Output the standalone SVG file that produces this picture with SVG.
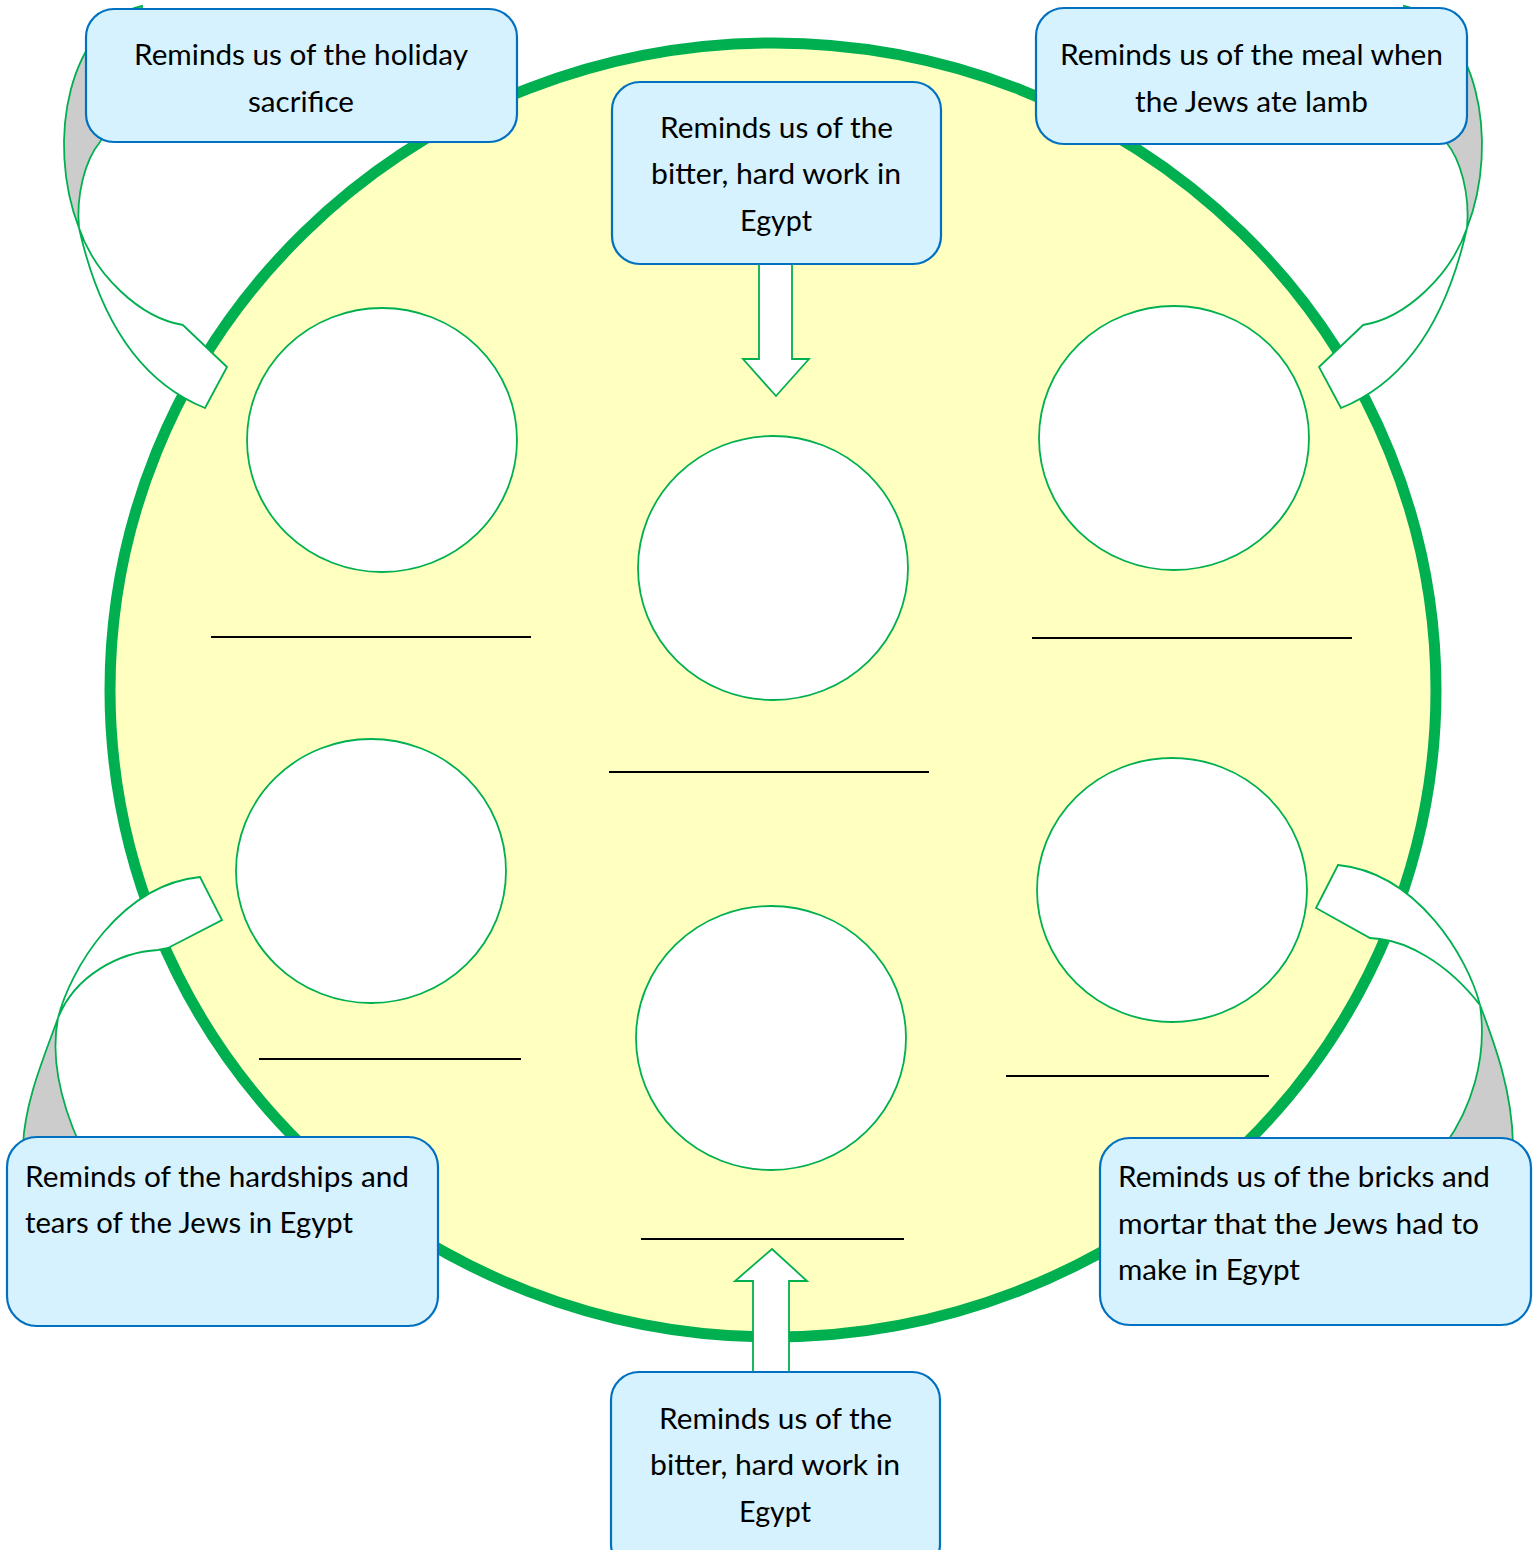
<svg xmlns="http://www.w3.org/2000/svg" width="1540" height="1550" viewBox="0 0 1540 1550">
<style>
.plate{fill:#FFFFC0;stroke:#00B050;stroke-width:11}
.slot{fill:#FFFFFF;stroke:#00B050;stroke-width:1.8}
.rule{stroke:#000000;stroke-width:2;fill:none}
.box{fill:#D5F2FE;stroke:#0070C0;stroke-width:2.2}
.arw{fill:#FFFFFF;stroke:#00B050;stroke-width:1.8;stroke-linejoin:miter}
.back{fill:#CCCCCC;stroke:#00B050;stroke-width:1.8}
.t{font-family:Lato,"Open Sans","Liberation Sans",sans-serif;font-size:28px;fill:#000000}
.c{text-anchor:middle}
</style>
<rect width="1540" height="1550" fill="#FFFFFF"/>
<g id="plate"><ellipse class="plate" cx="773" cy="690" rx="663" ry="647"/></g>
<g id="slots">
<ellipse id="slot1" class="slot" cx="382" cy="440" rx="135" ry="132"/>
<ellipse id="slot2" class="slot" cx="773" cy="568" rx="135" ry="132"/>
<ellipse id="slot3" class="slot" cx="1174" cy="438" rx="135" ry="132"/>
<ellipse id="slot4" class="slot" cx="371" cy="871" rx="135" ry="132"/>
<ellipse id="slot5" class="slot" cx="771" cy="1038" rx="135" ry="132"/>
<ellipse id="slot6" class="slot" cx="1172" cy="890" rx="135" ry="132"/>
</g>
<g id="rules">
<line class="rule" x1="211" y1="637" x2="531" y2="637"/>
<line class="rule" x1="1032" y1="638" x2="1352" y2="638"/>
<line class="rule" x1="609" y1="772" x2="929" y2="772"/>
<line class="rule" x1="259" y1="1059" x2="521" y2="1059"/>
<line class="rule" x1="1006" y1="1076" x2="1269" y2="1076"/>
<line class="rule" x1="641" y1="1239" x2="904" y2="1239"/>
</g>
<g id="connectors">
<g id="curveTL">
<path class="back" d="M142,6 C70,22 45,140 79,228 C76,195 85,160 100,142 C110,120 125,100 140,85 Z"/>
<path class="arw" d="M79,228 C88,268 115,372 205,408 L227,367 L185,327 L183,325 C140,318 95,275 79,228 Z"/>
</g>
<g id="curveTR" transform="translate(1546,0) scale(-1,1)">
<path class="back" d="M142,6 C70,22 45,140 79,228 C76,195 85,160 100,142 C110,120 125,100 140,85 Z"/>
<path class="arw" d="M79,228 C88,268 115,372 205,408 L227,367 L185,327 L183,325 C140,318 95,275 79,228 Z"/>
</g>
<g id="curveBL">
<path class="back" d="M58,1018 C45,1055 25,1100 23,1145 L80,1145 C62,1105 50,1060 58,1018 Z"/>
<path class="arw" d="M58,1018 C70,970 120,885 200,877 L222,920 L168,948 L158,950 C120,952 75,975 58,1018 Z"/>
</g>
<g id="curveBR">
<path class="back" d="M1480,1005 C1495,1045 1512,1090 1513,1145 L1445,1145 C1470,1110 1488,1060 1480,1005 Z"/>
<path class="arw" d="M1480,1005 C1468,958 1418,873 1338,865 L1316,908 L1370,938 L1380,939 C1405,942 1445,960 1480,1005 Z"/>
</g>
<path id="arrowDown" class="arw" d="M759,262 L792,262 L792,359 L809,359 L776,396 L743,359 L759,359 Z"/>
<path id="arrowUp" class="arw" d="M753,1374 L753,1281 L735,1281 L772,1249 L807,1281 L789,1281 L789,1374 Z"/>
</g>
<g id="boxTL">
<rect class="box" x="86" y="9" width="431" height="133" rx="28"/>
<text class="t c" x="301" y="65" textLength="334" lengthAdjust="spacingAndGlyphs">Reminds us of the holiday</text>
<text class="t c" x="301" y="112" textLength="106" lengthAdjust="spacingAndGlyphs">sacrifice</text>
</g>
<g id="boxTC">
<rect class="box" x="612" y="82" width="329" height="182" rx="28"/>
<text class="t c" x="776.5" y="138" textLength="233" lengthAdjust="spacingAndGlyphs">Reminds us of the</text>
<text class="t c" x="776" y="184" textLength="250" lengthAdjust="spacingAndGlyphs">bitter, hard work in</text>
<text class="t c" x="776" y="231" textLength="72" lengthAdjust="spacingAndGlyphs">Egypt</text>
</g>
<g id="boxTR">
<rect class="box" x="1036" y="8" width="431" height="136" rx="28"/>
<text class="t c" x="1251.5" y="65" textLength="383" lengthAdjust="spacingAndGlyphs">Reminds us of the meal when</text>
<text class="t c" x="1251.5" y="112" textLength="233" lengthAdjust="spacingAndGlyphs">the Jews ate lamb</text>
</g>
<g id="boxBL">
<rect class="box" x="7" y="1137" width="431" height="189" rx="30"/>
<text class="t" x="25" y="1187" textLength="384" lengthAdjust="spacingAndGlyphs">Reminds of the hardships and</text>
<text class="t" x="25" y="1233" textLength="328" lengthAdjust="spacingAndGlyphs">tears of the Jews in Egypt</text>
</g>
<g id="boxBR">
<rect class="box" x="1100" y="1138" width="431" height="187" rx="30"/>
<text class="t" x="1118" y="1187" textLength="372" lengthAdjust="spacingAndGlyphs">Reminds us of the bricks and</text>
<text class="t" x="1118" y="1234" textLength="361" lengthAdjust="spacingAndGlyphs">mortar that the Jews had to</text>
<text class="t" x="1118" y="1280" textLength="182" lengthAdjust="spacingAndGlyphs">make in Egypt</text>
</g>
<g id="boxBC">
<rect class="box" x="611" y="1372" width="329" height="200" rx="28"/>
<text class="t c" x="775.5" y="1429" textLength="233" lengthAdjust="spacingAndGlyphs">Reminds us of the</text>
<text class="t c" x="775" y="1475" textLength="250" lengthAdjust="spacingAndGlyphs">bitter, hard work in</text>
<text class="t c" x="775" y="1522" textLength="72" lengthAdjust="spacingAndGlyphs">Egypt</text>
</g>
</svg>
